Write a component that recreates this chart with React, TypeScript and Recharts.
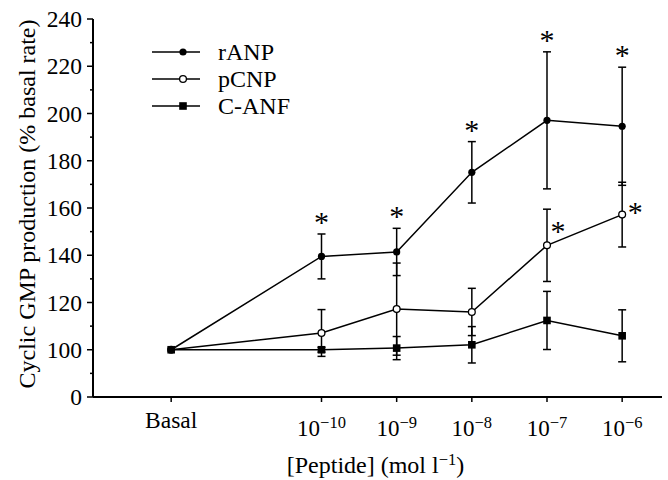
import React from 'react';
import { ComposedChart, Line, XAxis, YAxis, ErrorBar, Scatter, Legend } from 'recharts';

const FONT = '"Liberation Serif", "DejaVu Serif", "Times New Roman", serif';

// x categories: Basal plotted two decades below 10^-10
const logConcentration = [-12, -10, -9, -8, -7, -6];
const tickBaseLabels = ['Basal', '10', '10', '10', '10', '10'];
const tickExponentLabels = ['', '−10', '−9', '−8', '−7', '−6'];

const seriesNames = ['rANP', 'pCNP', 'C-ANF'];

const rANP = [100, 139.5, 141.4, 175.1, 197.1, 194.6];
const rANPErr = [0, 9.5, 10, 13, 29, 25];
const pCNP = [100, 107.1, 117.2, 116.0, 144.2, 157.2];
const pCNPErr = [0, 9.9, 19.5, 10, 15.3, 13.7];
const cANF = [100, 100, 100.7, 102.1, 112.4, 105.9];
const cANFErr = [0, 1, 4.9, 7.7, 12.3, 11];

// significance markers (*)
const rANPSignificant = [false, true, true, true, true, true];
const pCNPSignificant = [false, false, false, false, true, true];

// broken y axis: the "0" label sits where 80 would be
const yTickValues = [80, 90, 100, 110, 120, 130, 140, 150, 160, 170, 180, 190, 200, 210, 220, 230, 240];
const yTickLabels = ['0', '', '100', '', '120', '', '140', '', '160', '', '180', '', '200', '', '220', '', '240'];

const data = logConcentration.map((x, i) => ({
  x,
  rANP: rANP[i],
  rANPErr: rANPErr[i],
  pCNP: pCNP[i],
  pCNPErr: pCNPErr[i],
  cANF: cANF[i],
  cANFErr: cANFErr[i],
  rANPStar: rANPSignificant[i] ? rANP[i] + rANPErr[i] : null,
  pCNPStar: pCNPSignificant[i] ? pCNP[i] : null,
}));

const pCNPStarOffset: Record<number, [number, number]> = { [-7]: [11, -18], [-6]: [13, -7] };

const Marker = ({ kind, cx, cy }: { kind: string; cx: number; cy: number }) => {
  if (kind === 'rANP') return <circle cx={cx} cy={cy} r={3.6} fill="#000" />;
  if (kind === 'pCNP') return <circle cx={cx} cy={cy} r={3.4} fill="#fff" stroke="#000" strokeWidth={1.3} />;
  return <rect x={cx - 3.8} y={cy - 3.8} width={7.6} height={7.6} fill="#000" />;
};

const makeDot = (kind: string) => (props: any) => {
  const { cx, cy, index } = props;
  if (cx == null || cy == null) return <g key={`${kind}-${index}`} />;
  return (
    <g key={`${kind}-${index}`}>
      <Marker kind={kind} cx={cx} cy={cy} />
    </g>
  );
};

const Star = ({ x, y }: { x: number; y: number }) => (
  <text x={x} y={y} textAnchor="middle" fontFamily={FONT} fontSize={30} fill="#000">
    *
  </text>
);

const RANPStarShape = (props: any) => {
  const { cx, cy, payload } = props;
  if (!payload || payload.rANPStar == null || cy == null || isNaN(cy)) return <g />;
  return <Star x={cx} y={cy - 2} />;
};

const PCNPStarShape = (props: any) => {
  const { cx, cy, payload } = props;
  if (!payload || payload.pCNPStar == null || cy == null || isNaN(cy)) return <g />;
  const [dx, dy] = pCNPStarOffset[payload.x] || [12, -12];
  return <Star x={cx + dx} y={cy + dy + 14} />;
};

const YTick = (props: any) => {
  const { x, y, payload } = props;
  const idx = yTickValues.indexOf(payload.value);
  const label = idx >= 0 ? yTickLabels[idx] : '';
  const axisX = x + 11;
  const major = label !== '';
  return (
    <g>
      <line x1={axisX - (major ? 6 : 3)} x2={axisX} y1={y} y2={y} stroke="#000" strokeWidth={1.5} />
      {major && (
        <text x={x} y={y} dy={8} textAnchor="end" fontFamily={FONT} fontSize={23.5} fill="#000">
          {label}
        </text>
      )}
    </g>
  );
};

const XTick = (props: any) => {
  const { x, y, payload } = props;
  const idx = logConcentration.indexOf(payload.value);
  if (idx < 0) return <g />;
  if (tickExponentLabels[idx] === '') {
    return (
      <text x={x} y={y} dy={26} textAnchor="middle" fontFamily={FONT} fontSize={23.5} fill="#000">
        {tickBaseLabels[idx]}
      </text>
    );
  }
  return (
    <text x={x} y={y} dy={34} textAnchor="middle" fontFamily={FONT} fontSize={23} fill="#000">
      {tickBaseLabels[idx]}
      <tspan fontSize={16.5} dy={-8}>
        {tickExponentLabels[idx]}
      </tspan>
    </text>
  );
};

const YLabel = (props: any) => {
  const vb = props.viewBox || { x: 0, y: 0, width: 93, height: 378 };
  const cx = vb.x + 35;
  const cy = vb.y + vb.height / 2 - 4;
  return (
    <text
      x={cx}
      y={cy}
      transform={`rotate(-90, ${cx}, ${cy})`}
      textAnchor="middle"
      fontFamily={FONT}
      fontSize={24}
      fill="#000"
    >
      Cyclic GMP production (% basal rate)
    </text>
  );
};

const XLabel = (props: any) => {
  const vb = props.viewBox || { x: 93, y: 397, width: 569, height: 60 };
  const cx = vb.x + vb.width / 2 - 2;
  const cy = vb.y + 76;
  return (
    <text x={cx} y={cy} textAnchor="middle" fontFamily={FONT} fontSize={24} fill="#000">
      [Peptide] (mol l
      <tspan fontSize={16.5} dy={-8}>
        −1
      </tspan>
      <tspan dy={8}>)</tspan>
    </text>
  );
};

const LegendContent = () => (
  <svg width={160} height={84} style={{ overflow: 'visible' }}>
    {seriesNames.map((name, i) => {
      const cy = 14 + i * 27;
      return (
        <g key={name}>
          <line x1={2} x2={50} y1={cy} y2={cy} stroke="#000" strokeWidth={1.6} />
          <Marker kind={i === 0 ? 'rANP' : i === 1 ? 'pCNP' : 'cANF'} cx={33} cy={cy} />
          <text x={68} y={cy} dy={8} fontFamily={FONT} fontSize={24} fill="#000">
            {name}
          </text>
        </g>
      );
    })}
  </svg>
);

export default function App() {
  return (
    <div style={{ position: 'absolute', left: 0, top: 0, width: 668, height: 480, background: '#fff' }}>
      <ComposedChart
        width={668}
        height={480}
        data={data}
        margin={{ top: 19, right: 6, bottom: 23, left: 0 }}
      >
        <XAxis
          dataKey="x"
          type="number"
          domain={[-13.04, -5.47]}
          ticks={logConcentration}
          allowDataOverflow
          height={60}
          tickSize={5}
          tickMargin={0}
          tick={<XTick />}
          axisLine={{ stroke: '#000', strokeWidth: 2 }}
          tickLine={{ stroke: '#000', strokeWidth: 1.5 }}
          label={<XLabel />}
        />
        <YAxis
          type="number"
          domain={[80, 240]}
          ticks={yTickValues}
          interval={0}
          allowDataOverflow
          width={93}
          tickSize={6}
          tickMargin={5}
          tickLine={false}
          tick={<YTick />}
          axisLine={{ stroke: '#000', strokeWidth: 2 }}
          label={<YLabel />}
        />
        <Legend
          layout="vertical"
          align="center"
          verticalAlign="middle"
          wrapperStyle={{ left: 150, top: 38, width: 160, height: 84 }}
          content={<LegendContent />}
        />
        <Line
          type="linear"
          dataKey="cANF"
          name="C-ANF"
          stroke="#000"
          strokeWidth={1.5}
          dot={makeDot('cANF')}
          activeDot={false}
          isAnimationActive={false}
        >
          <ErrorBar dataKey="cANFErr" direction="y" width={4} stroke="#000" strokeWidth={1.5} />
        </Line>
        <Line
          type="linear"
          dataKey="pCNP"
          name="pCNP"
          stroke="#000"
          strokeWidth={1.5}
          dot={makeDot('pCNP')}
          activeDot={false}
          isAnimationActive={false}
        >
          <ErrorBar dataKey="pCNPErr" direction="y" width={4} stroke="#000" strokeWidth={1.5} />
        </Line>
        <Line
          type="linear"
          dataKey="rANP"
          name="rANP"
          stroke="#000"
          strokeWidth={1.5}
          dot={makeDot('rANP')}
          activeDot={false}
          isAnimationActive={false}
        >
          <ErrorBar dataKey="rANPErr" direction="y" width={4} stroke="#000" strokeWidth={1.5} />
        </Line>
        <Scatter dataKey="rANPStar" shape={RANPStarShape} legendType="none" isAnimationActive={false} />
        <Scatter dataKey="pCNPStar" shape={PCNPStarShape} legendType="none" isAnimationActive={false} />
      </ComposedChart>
    </div>
  );
}
